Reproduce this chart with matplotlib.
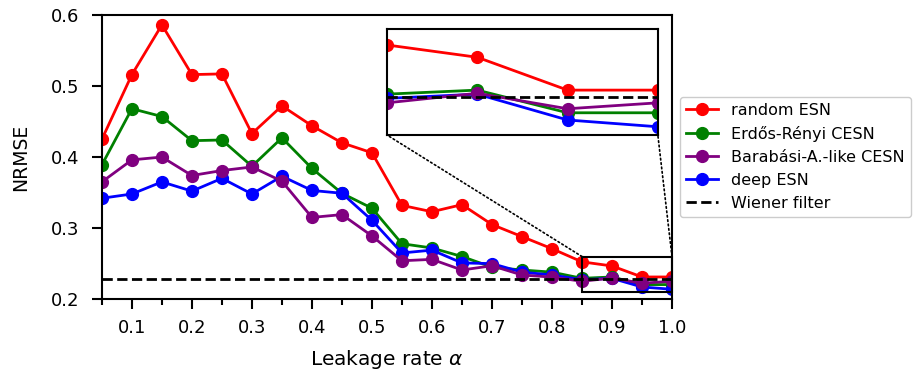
import matplotlib.pyplot as plt
from matplotlib.patches import Rectangle, ConnectionPatch

alpha = [0.05, 0.1, 0.15, 0.2, 0.25, 0.3, 0.35, 0.4, 0.45, 0.5,
         0.55, 0.6, 0.65, 0.7, 0.75, 0.8, 0.85, 0.9, 0.95, 1.0]

random_esn = [0.425, 0.516, 0.586, 0.516, 0.517, 0.433, 0.472, 0.444, 0.420, 0.406,
              0.332, 0.323, 0.333, 0.305, 0.288, 0.271, 0.2525, 0.2467, 0.2312, 0.2312]
erdos_renyi = [0.389, 0.468, 0.457, 0.423, 0.424, 0.387, 0.427, 0.384, 0.349, 0.328,
               0.278, 0.272, 0.260, 0.245, 0.241, 0.238, 0.2293, 0.2312, 0.2205, 0.2205]
barabasi = [0.365, 0.396, 0.400, 0.374, 0.381, 0.386, 0.366, 0.315, 0.319, 0.289,
            0.254, 0.256, 0.241, 0.247, 0.234, 0.231, 0.2252, 0.2297, 0.2224, 0.2252]
deep_esn = [0.342, 0.348, 0.365, 0.352, 0.370, 0.348, 0.373, 0.353, 0.349, 0.311,
            0.265, 0.269, 0.251, 0.250, 0.238, 0.234, 0.2273, 0.2293, 0.2171, 0.2139]
wiener = 0.228

x_ticks = [0.1, 0.2, 0.3, 0.4, 0.5, 0.6, 0.7, 0.8, 0.9, 1.0]
x_minor = [0.05, 0.15, 0.25, 0.35, 0.45, 0.55, 0.65, 0.75, 0.85, 0.95]
y_ticks = [0.2, 0.3, 0.4, 0.5, 0.6]

# zoom window
zx = (0.85, 1.0)
zy = (0.21, 0.26)


def draw_lines(ax, ms=8.5, lw=2):
    h_r, = ax.plot(alpha, random_esn, "o-", color="red", ms=ms, lw=lw, label="random ESN")
    h_g, = ax.plot(alpha, erdos_renyi, "o-", color="green", ms=ms, lw=lw, label="Erdős-Rényi CESN")
    h_b, = ax.plot(alpha, deep_esn, "o-", color="blue", ms=ms, lw=lw, label="deep ESN")
    h_p, = ax.plot(alpha, barabasi, "o-", color="purple", ms=ms, lw=lw, label="Barabási-A.-like CESN")
    h_w = ax.axhline(wiener, color="black", ls="--", lw=2, label="Wiener filter")
    return [h_r, h_g, h_p, h_b, h_w]


fig = plt.figure(figsize=(9.18, 3.73), dpi=100)
ax = fig.add_axes([0.111, 0.198, 0.621, 0.762])

handles = draw_lines(ax)
ax.set_xlim(0.05, 1.0)
ax.set_ylim(0.2, 0.6)
ax.set_xticks(x_ticks)
ax.set_xticks(x_minor, minor=True)
ax.set_yticks(y_ticks)
ax.tick_params(which="major", labelsize=13, width=1.5, length=7, pad=7)
ax.tick_params(axis="y", pad=9)
ax.tick_params(which="minor", width=1.5, length=4)
for s in ax.spines.values():
    s.set_linewidth(1.5)
ax.set_xlabel(r"Leakage rate $\alpha$", fontsize=14.5, labelpad=8)
ax.set_ylabel("NRMSE", fontsize=13.5, labelpad=15)

ax.legend(handles=handles, loc="center left", bbox_to_anchor=(1.0, 0.5), fontsize=11.5,
          labelspacing=0.5, fancybox=True, framealpha=1)

# inset
axins = fig.add_axes([0.4216, 0.638, 0.295, 0.284])
draw_lines(axins)
axins.set_xlim(*zx)
axins.set_ylim(*zy)
axins.set_xticks([])
axins.set_yticks([])
for s in axins.spines.values():
    s.set_linewidth(1.5)

ax.add_patch(Rectangle((zx[0], zy[0]), zx[1] - zx[0], zy[1] - zy[0], fill=False,
                       edgecolor="black", lw=1.5, zorder=5, clip_on=False))
for xa, xb in [(zx[0], 0), (zx[1], 1)]:
    con = ConnectionPatch(xyA=(xa, zy[1]), coordsA=ax.transData,
                          xyB=(xb, 0), coordsB=axins.transAxes,
                          color="black", ls=":", lw=1.2)
    fig.add_artist(con)

fig.savefig("out.png", dpi=100)
